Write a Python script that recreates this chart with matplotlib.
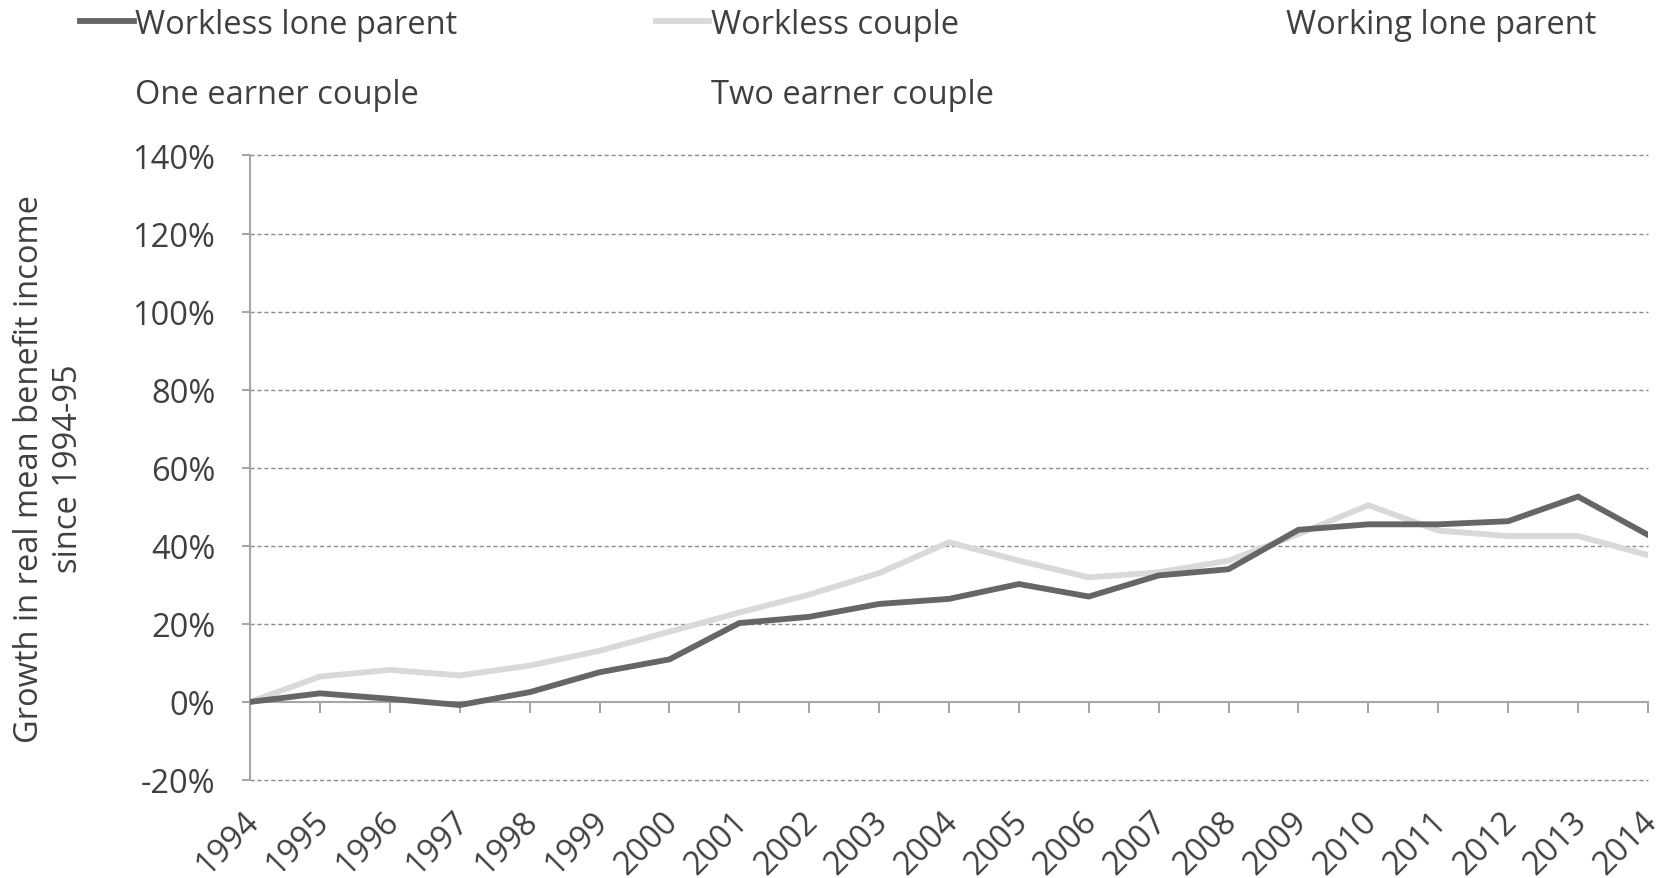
import matplotlib
matplotlib.use("Agg")
import matplotlib.pyplot as plt
import matplotlib.transforms as mtransforms
from matplotlib.ticker import FuncFormatter

plt.rcParams['font.family'] = ['Open Sans', 'DejaVu Sans']

years = list(range(1994, 2015))
workless_lone_parent = [0.0, 2.2, 0.8, -0.8, 2.5, 7.6, 10.9, 20.2, 21.8, 25.1, 26.4,
                        30.2, 27.0, 32.4, 34.0, 44.1, 45.5, 45.5, 46.3, 52.6, 42.8]
workless_couple = [0.0, 6.5, 8.2, 6.8, 9.3, 13.1, 18.0, 22.9, 27.5, 33.0, 40.9,
                   36.2, 31.9, 33.2, 36.2, 43.0, 50.4, 43.9, 42.5, 42.5, 37.6]
series_names = ["Workless lone parent", "Workless couple", "Working lone parent",
                "One earner couple", "Two earner couple"]
series_colors = ["#666666", "#d9d9d9", "#ffffff", "#ffffff", "#ffffff"]

text_col = "#404040"
axis_col = "#a6a6a6"
fs = 23.5

fig = plt.figure(figsize=(16.69, 8.79), dpi=100)
ax = fig.add_axes([0.1498, 0.1115, 0.8376, 0.7105])

handles = []
h, = ax.plot(years, workless_lone_parent, color=series_colors[0], lw=4.2,
             solid_joinstyle='miter', label=series_names[0], zorder=4)
handles.append(h)
h, = ax.plot(years, workless_couple, color=series_colors[1], lw=4.2,
             solid_joinstyle='miter', label=series_names[1], zorder=3)
handles.append(h)
for name, col in zip(series_names[2:], series_colors[2:]):
    h, = ax.plot([], [], color=col, lw=4.2, label=name)
    handles.append(h)

ax.set_xlim(1994, 2014)
ax.set_ylim(-20, 140)
ax.set_yticks(range(-20, 141, 20))
ax.yaxis.set_major_formatter(FuncFormatter(lambda v, p: f"{v:.0f}%"))
ax.tick_params(axis='y', labelsize=fs, colors=axis_col, labelcolor=text_col,
               length=6, width=1.5, direction='out', pad=19)

for v in range(-20, 141, 20):
    if v != 0:
        ax.axhline(v, color="#8c8c8c", lw=1, ls=(0, (3, 2)), zorder=1, clip_on=False)

for s in ['top', 'right']:
    ax.spines[s].set_visible(False)
ax.spines['left'].set_color(axis_col)
ax.spines['left'].set_linewidth(1.5)
ax.spines['bottom'].set_position(('data', 0))
ax.spines['bottom'].set_color(axis_col)
ax.spines['bottom'].set_linewidth(1.5)
ax.set_xticks(years)
ax.tick_params(axis='x', labelbottom=False, colors=axis_col, length=8,
               width=1.5, direction='out')

sec = ax.secondary_xaxis('bottom')
sec.spines['bottom'].set_visible(False)
sec.set_xticks(years)
sec.set_xticklabels([str(y) for y in years], rotation=45, ha='right',
                    rotation_mode='anchor', fontsize=fs, color=text_col)
sec.tick_params(length=0, pad=18)
shift = mtransforms.ScaledTranslation(-8 / 100, 0, fig.dpi_scale_trans)
for lab in sec.get_xticklabels():
    lab.set_transform(lab.get_transform() + shift)

ax.set_ylabel("Growth in real mean benefit income\nsince 1994-95", fontsize=fs,
              color=text_col, linespacing=1.25)
ax.yaxis.set_label_coords(-0.118, 0.5)

# legend laid out in three fixed-width columns like the original
col_x = [0.040, 0.385, 0.7294]
columns = [[0, 3], [1, 4], [2]]
for cx, idx in zip(col_x, columns):
    fig.legend([handles[i] for i in idx], [series_names[i] for i in idx],
               loc='upper left', bbox_to_anchor=(cx, 1.005), ncol=1, frameon=False,
               fontsize=fs, handlelength=1.65, handletextpad=0.05,
               labelspacing=1.15, labelcolor=text_col, borderaxespad=0)

fig.savefig("out.png", dpi=100)
